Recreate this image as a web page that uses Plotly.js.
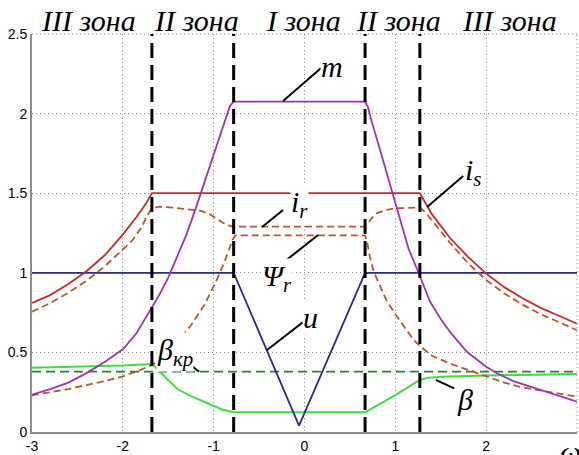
<!DOCTYPE html>
<html>
<head>
<meta charset="utf-8">
<script src="https://cdn.plot.ly/plotly-3.0.1.min.js"></script>
<style>html,body{margin:0;padding:0;background:#fff;}</style>
</head>
<body>
<div id="chart" style="width:579px;height:455px;"></div>
<script>
// Speed axis (omega) and control zones
const zoneEdges = [-1.68, -0.78, 0.667, 1.27];
const zoneNames = ['III зона', 'II зона', 'I зона', 'II зона', 'III зона'];
const xTicks = [-3, -2, -1, 0, 1, 2, 3];
const xTickText = ['-3', '-2', '-1', '0', '1', '2', ''];
const yTicks = [0, 0.5, 1, 1.5, 2, 2.5];
const yTickText = ['0', '0.5', '1', '1.5', '2', '2.5'];

// m - torque
const mX = [-3, -2.8, -2.6, -2.4, -2.2, -2.0, -1.85, -1.7, -1.6, -1.5, -1.4, -1.3, -1.2, -1.1, -1.0, -0.92, -0.86, -0.82, -0.78,
            0.667, 0.70, 0.73, 0.833, 0.9, 1.0, 1.144, 1.27, 1.383, 1.5, 1.6, 1.787, 2.0, 2.118, 2.3, 2.485, 2.7, 3.0];
const mY = [0.235, 0.27, 0.31, 0.37, 0.44, 0.52, 0.62, 0.766, 0.86, 0.97, 1.10, 1.24, 1.40, 1.57, 1.74, 1.88, 1.99, 2.05, 2.075,
            2.075, 2.04, 1.97, 1.77, 1.64, 1.44, 1.154, 0.98, 0.818, 0.71, 0.63, 0.504, 0.41, 0.369, 0.32, 0.285, 0.245, 0.19];

// i_s - stator current
const isX = [-3, -2.8, -2.6, -2.4, -2.2, -2.0, -1.85, -1.75, -1.68, 1.27, 1.33, 1.4, 1.6, 1.8, 2.0, 2.2, 2.4, 2.6, 2.8, 3.0];
const isY = [0.81, 0.86, 0.93, 1.01, 1.11, 1.24, 1.35, 1.43, 1.5, 1.5, 1.44, 1.37, 1.22, 1.10, 0.995, 0.91, 0.84, 0.78, 0.73, 0.68];

// i_r - rotor current
const irX = [-3, -2.8, -2.6, -2.4, -2.2, -2.0, -1.9, -1.8, -1.74, -1.68, -1.6, -1.45, -1.3, -1.15, -1.05, -0.966, -0.9, -0.82, -0.78,
             0.667, 0.70, 0.75, 0.80, 0.9, 1.0, 1.15, 1.27, 1.33, 1.4, 1.5, 1.6, 1.8, 2.0, 2.2, 2.4, 2.6, 2.8, 3.0];
const irY = [0.755, 0.81, 0.875, 0.95, 1.04, 1.15, 1.20, 1.28, 1.35, 1.405, 1.415, 1.41, 1.40, 1.39, 1.37, 1.34, 1.315, 1.295, 1.29,
             1.29, 1.315, 1.35, 1.375, 1.395, 1.405, 1.41, 1.41, 1.38, 1.33, 1.26, 1.19, 1.06, 0.955, 0.87, 0.80, 0.74, 0.69, 0.64];

// Psi_r - rotor flux
const psiX = [-3, -2.8, -2.6, -2.4, -2.2, -2.0, -1.85, -1.68, -1.55, -1.4, -1.25, -1.1, -0.966, -0.88, -0.82, -0.79, -0.76,
              0.667, 0.69, 0.72, 0.76, 0.80, 0.9, 1.0, 1.1, 1.2, 1.27, 1.4, 1.6, 1.8, 2.0, 2.2, 2.4, 2.6, 2.8, 3.0];
const psiY = [0.23, 0.25, 0.27, 0.295, 0.32, 0.35, 0.38, 0.42, 0.48, 0.565, 0.67, 0.80, 0.955, 1.07, 1.16, 1.21, 1.235,
              1.235, 1.19, 1.10, 1.01, 0.955, 0.83, 0.74, 0.66, 0.58, 0.54, 0.48, 0.43, 0.39, 0.35, 0.31, 0.28, 0.26, 0.24, 0.222];

// u - voltage
const uX = [-3, -0.78, -0.06, 0.667, 3];
const uY = [1, 1, 0.04, 1, 1];

// beta - slip, beta_kr - critical slip
const betaX = [-3, -2.5, -2.0, -1.68, -1.6, -1.517, -1.4, -1.25, -1.15, -1.0, -0.9, -0.78, 0.667, 1.0, 1.27, 1.35, 1.5, 2.0, 2.5, 3.0];
const betaY = [0.404, 0.41, 0.418, 0.427, 0.385, 0.335, 0.27, 0.225, 0.20, 0.165, 0.14, 0.124, 0.124, 0.232, 0.327, 0.34, 0.347, 0.355, 0.36, 0.364];
const betaKrX = [-3, 3];
const betaKrY = [0.379, 0.379];

const W = 1.8;
const traces = [
  {x: betaKrX, y: betaKrY, mode: 'lines', line: {color: '#2e7d32', width: W, dash: '9px,5px'}},
  {x: betaX, y: betaY, mode: 'lines', line: {color: '#3fdc3f', width: 2}},
  {x: uX, y: uY, mode: 'lines', line: {color: '#2a2a8c', width: W}},
  {x: psiX, y: psiY, mode: 'lines', line: {color: '#b5572f', width: W, dash: '7px,4px'}},
  {x: irX, y: irY, mode: 'lines', line: {color: '#b5572f', width: W, dash: '7px,4px'}},
  {x: mX, y: mY, mode: 'lines', line: {color: '#a232b2', width: W}},
  {x: isX, y: isY, mode: 'lines', line: {color: '#cc2929', width: W}}
];
// zone boundaries
zoneEdges.forEach(function (xe) {
  traces.push({x: [xe, xe], y: [yTicks[0], yTicks[yTicks.length - 1]], mode: 'lines',
               line: {color: '#000', width: 3, dash: '15px,7px'}});
});
traces.forEach(function (t) { t.showlegend = false; t.hoverinfo = 'skip'; });

const serif = 'Liberation Serif, Times New Roman, serif';
// zone captions above the plot (paper coordinates)
const zoneLabelX = [0.1028, 0.3010, 0.4975, 0.6718, 0.8755];
const annotations = zoneNames.map(function (name, i) {
  return {x: zoneLabelX[i], y: 1.035, xref: 'paper', yref: 'paper', text: name, showarrow: false,
          xanchor: 'center', yanchor: 'middle',
          font: {family: serif, size: 30, color: '#000', style: 'italic'}};
});

function lbl(text, x, y) {
  return {x: x, y: y, xref: 'x', yref: 'y', text: text, showarrow: false,
          xanchor: 'center', yanchor: 'middle', bgcolor: '#fff', borderpad: 0,
          font: {family: serif, size: 30, color: '#000', style: 'italic'}};
}
annotations.push(lbl('m', 0.298, 2.293));
annotations.push(lbl('i<sub>s</sub>', 1.862, 1.633));
annotations.push(lbl('i<sub>r</sub>', -0.059, 1.432));
annotations.push(lbl('Ψ<sub>r</sub>', -0.302, 0.967));
annotations.push(lbl('u', 0.062, 0.722));
annotations.push(lbl('β', 1.769, 0.207));
annotations.push(lbl('β<sub>кр</sub>', -1.425, 0.50));
// axis variable in the lower right corner
annotations.push({x: 0.9875, y: -0.049, xref: 'paper', yref: 'paper', text: 'ω', showarrow: false,
                  xanchor: 'center', yanchor: 'middle',
                  font: {family: serif, size: 30, color: '#000', style: 'italic'}});

function leader(x0, y0, x1, y1) {
  return {type: 'line', xref: 'x', yref: 'y', x0: x0, y0: y0, x1: x1, y1: y1,
          line: {color: '#000', width: 2}, layer: 'above'};
}
const gridDash = '1px,3px';
const gridStyle = {color: '#8a8a8a', width: 1, dash: gridDash};
const shapes = [
  leader(-0.236, 2.079, 0.183, 2.286),
  leader(1.350, 1.413, 1.747, 1.608),
  leader(-0.467, 1.288, -0.236, 1.394),
  leader(-0.269, 1.049, 0.150, 1.237),
  leader(-0.412, 0.515, -0.015, 0.691),
  leader(1.446, 0.327, 1.648, 0.274),
  leader(-1.24, 0.415, -1.16, 0.379),
  // top and right frame edges, dotted like the grid
  {type: 'line', xref: 'paper', yref: 'paper', x0: 0, x1: 1, y0: 1, y1: 1, line: gridStyle, layer: 'below'},
  {type: 'line', xref: 'paper', yref: 'paper', x0: 1, x1: 1, y0: 0, y1: 1, line: gridStyle, layer: 'below'}
];

const tickFont = {family: 'Liberation Sans, Arial, sans-serif', size: 14, color: '#000'};
const layout = {
  width: 579, height: 455,
  margin: {l: 32, r: 2, t: 34, b: 23},
  paper_bgcolor: '#fff', plot_bgcolor: '#fff',
  showlegend: false,
  xaxis: {
    range: [-3, 3], tickmode: 'array', tickvals: xTicks, ticktext: xTickText,
    showgrid: true, gridcolor: '#8a8a8a', griddash: gridDash, gridwidth: 1,
    zeroline: false, showline: true, linecolor: '#8c8c8c', linewidth: 2,
    ticks: '', tickfont: tickFont, fixedrange: true
  },
  yaxis: {
    range: [0, 2.5], tickmode: 'array', tickvals: yTicks, ticktext: yTickText,
    showgrid: true, gridcolor: '#8a8a8a', griddash: gridDash, gridwidth: 1,
    zeroline: false, showline: true, linecolor: '#8c8c8c', linewidth: 2,
    ticks: '', tickfont: tickFont, fixedrange: true
  },
  annotations: annotations,
  shapes: shapes
};

Plotly.newPlot('chart', traces, layout, {staticPlot: true, displayModeBar: false});
</script>
</body>
</html>
